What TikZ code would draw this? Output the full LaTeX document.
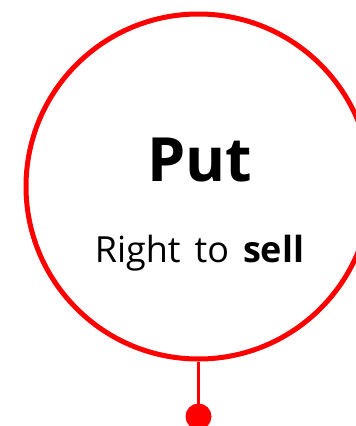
\documentclass[tikz,border=0pt]{standalone}
\usepackage{fontspec}
\setmainfont{Open Sans}
\begin{document}
\begin{tikzpicture}[x=1pt,y=-1pt,
  ring/.style={draw=red,line width=5pt,circle,minimum size=345pt,inner sep=0pt},
  stem/.style={draw=red,line width=2.5pt},
  knob/.style={fill=red,circle,minimum size=26pt,inner sep=0pt},
  title/.style={anchor=base,font=\fontsize{61}{61}\selectfont\bfseries,inner sep=0pt},
  sub/.style={anchor=base,font=\fontsize{36}{36}\selectfont,inner sep=0pt}]
\useasboundingbox (0,0) rectangle (356,426);
\begin{scope}
\clip (0,0) rectangle (356,426);
\node[ring] (c) at (198.5,186.5) {};
\node[knob] (d) at (198.5,416.5) {};
\draw[stem] (c.south) -- (d.center);
\end{scope}
\node[title] (t) at (200,181) {Put};
\node[sub] (s) at (199.5,262) {Right\hspace{14pt}to\hspace{14pt}\textbf{sell}};
\end{tikzpicture}
\end{document}
